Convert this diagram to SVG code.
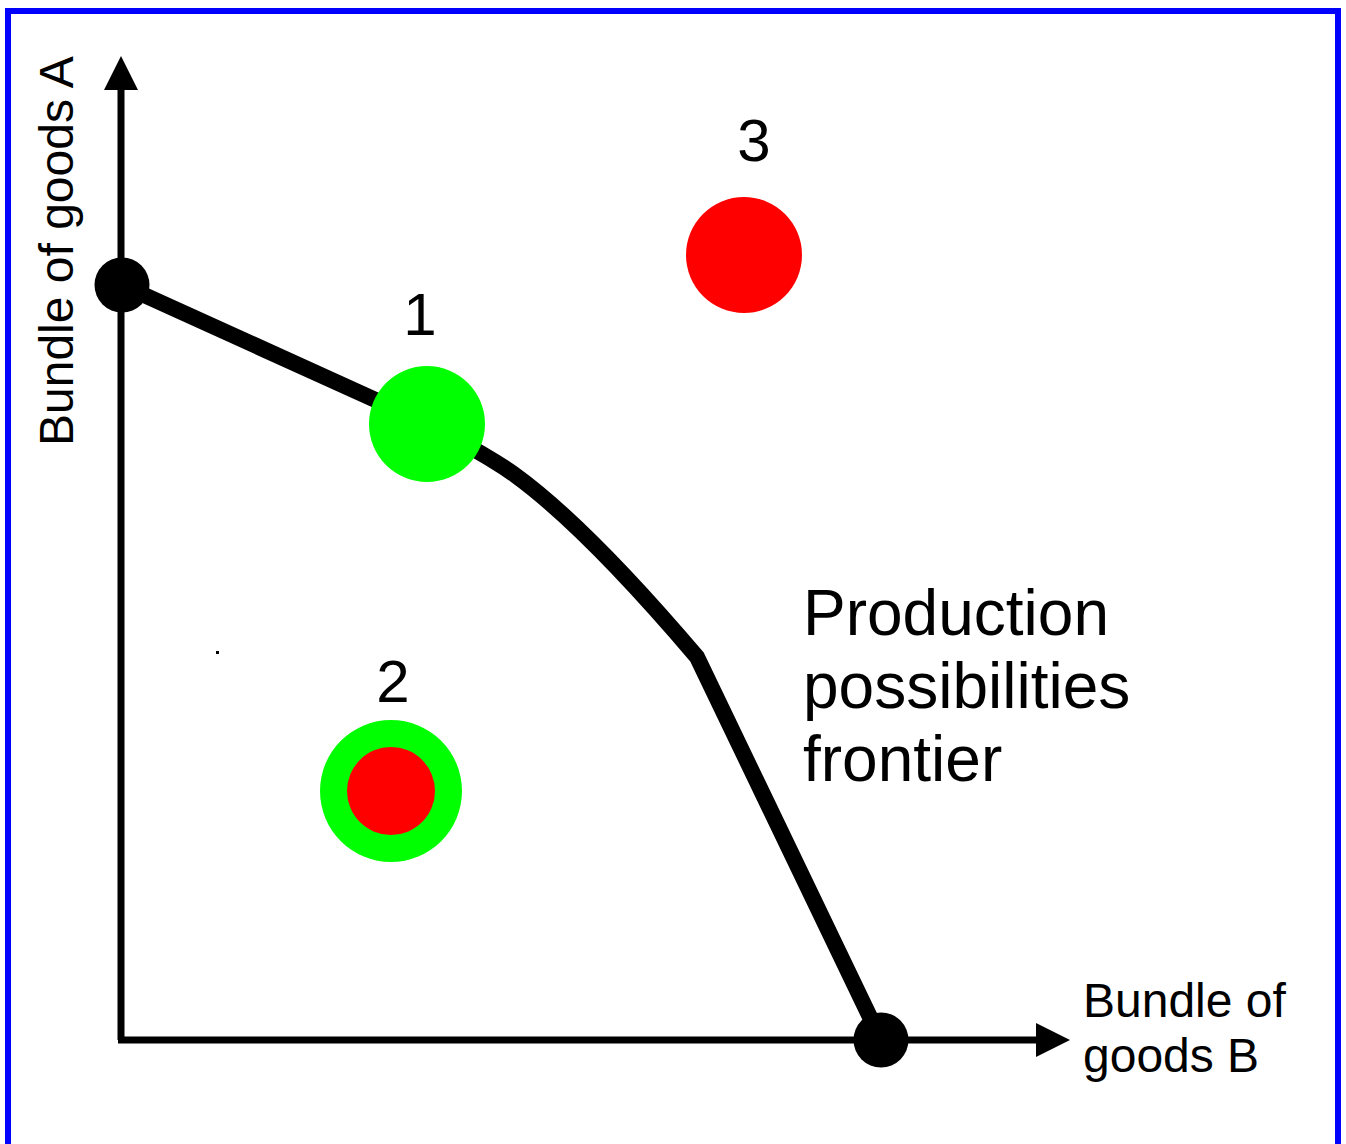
<svg xmlns="http://www.w3.org/2000/svg" width="1346" height="1144" viewBox="0 0 1346 1144">
<style>
.t{font-family:"Liberation Sans",Arial,sans-serif;fill:#000}
.axis{stroke:#000;stroke-width:7;fill:none}
</style>
<defs>
<marker id="arr" markerUnits="userSpaceOnUse" markerWidth="34" markerHeight="34" refX="0" refY="17" orient="auto" viewBox="0 0 34 34"><path d="M0,0 L34,17 L0,34 Z" fill="#000"/></marker>
</defs>
<rect x="0" y="0" width="1346" height="1144" fill="#fff"/>
<rect x="8" y="11" width="1330" height="1145" fill="none" stroke="#0000ff" stroke-width="6"/>
<g id="connectors">
<path class="axis" d="M121,1040 L121,90" marker-end="url(#arr)"/>
<path class="axis" d="M118,1040 L1036,1040" marker-end="url(#arr)"/>
<path d="M122,285 L380,402 C430,425 480,450 515,475 C570,515 640,590 697,657 L881,1040" fill="none" stroke="#000" stroke-width="16" stroke-linejoin="round"/>
<rect x="216" y="651" width="3" height="3" fill="#000"/>
</g>
<g id="endA"><circle cx="122" cy="285" r="27.5" fill="#000"/></g>
<g id="endB"><circle cx="881" cy="1040" r="27.5" fill="#000"/></g>
<g id="p1"><circle cx="427" cy="424" r="58" fill="#00ff00"/><text class="t" x="420" y="335" font-size="60" text-anchor="middle">1</text></g>
<g id="p3"><circle cx="744" cy="255" r="58" fill="#ff0000"/><text class="t" x="754" y="161" font-size="60" text-anchor="middle">3</text></g>
<g id="p2"><circle cx="391" cy="791" r="71" fill="#00ff00"/><circle cx="391" cy="791" r="44" fill="#ff0000"/><text class="t" x="393" y="702" font-size="60" text-anchor="middle">2</text></g>
<g id="ppf-label"><text class="t" font-size="64"><tspan x="803" y="635">Production</tspan><tspan x="803" y="708">possibilities</tspan><tspan x="803" y="781">frontier</tspan></text></g>
<g id="xlabel"><text class="t" font-size="48"><tspan x="1083" y="1017">Bundle of</tspan><tspan x="1083" y="1072">goods B</tspan></text></g>
<g id="ylabel"><text class="t" font-size="48" transform="translate(73,446) rotate(-90)">Bundle of goods A</text></g>
</svg>
